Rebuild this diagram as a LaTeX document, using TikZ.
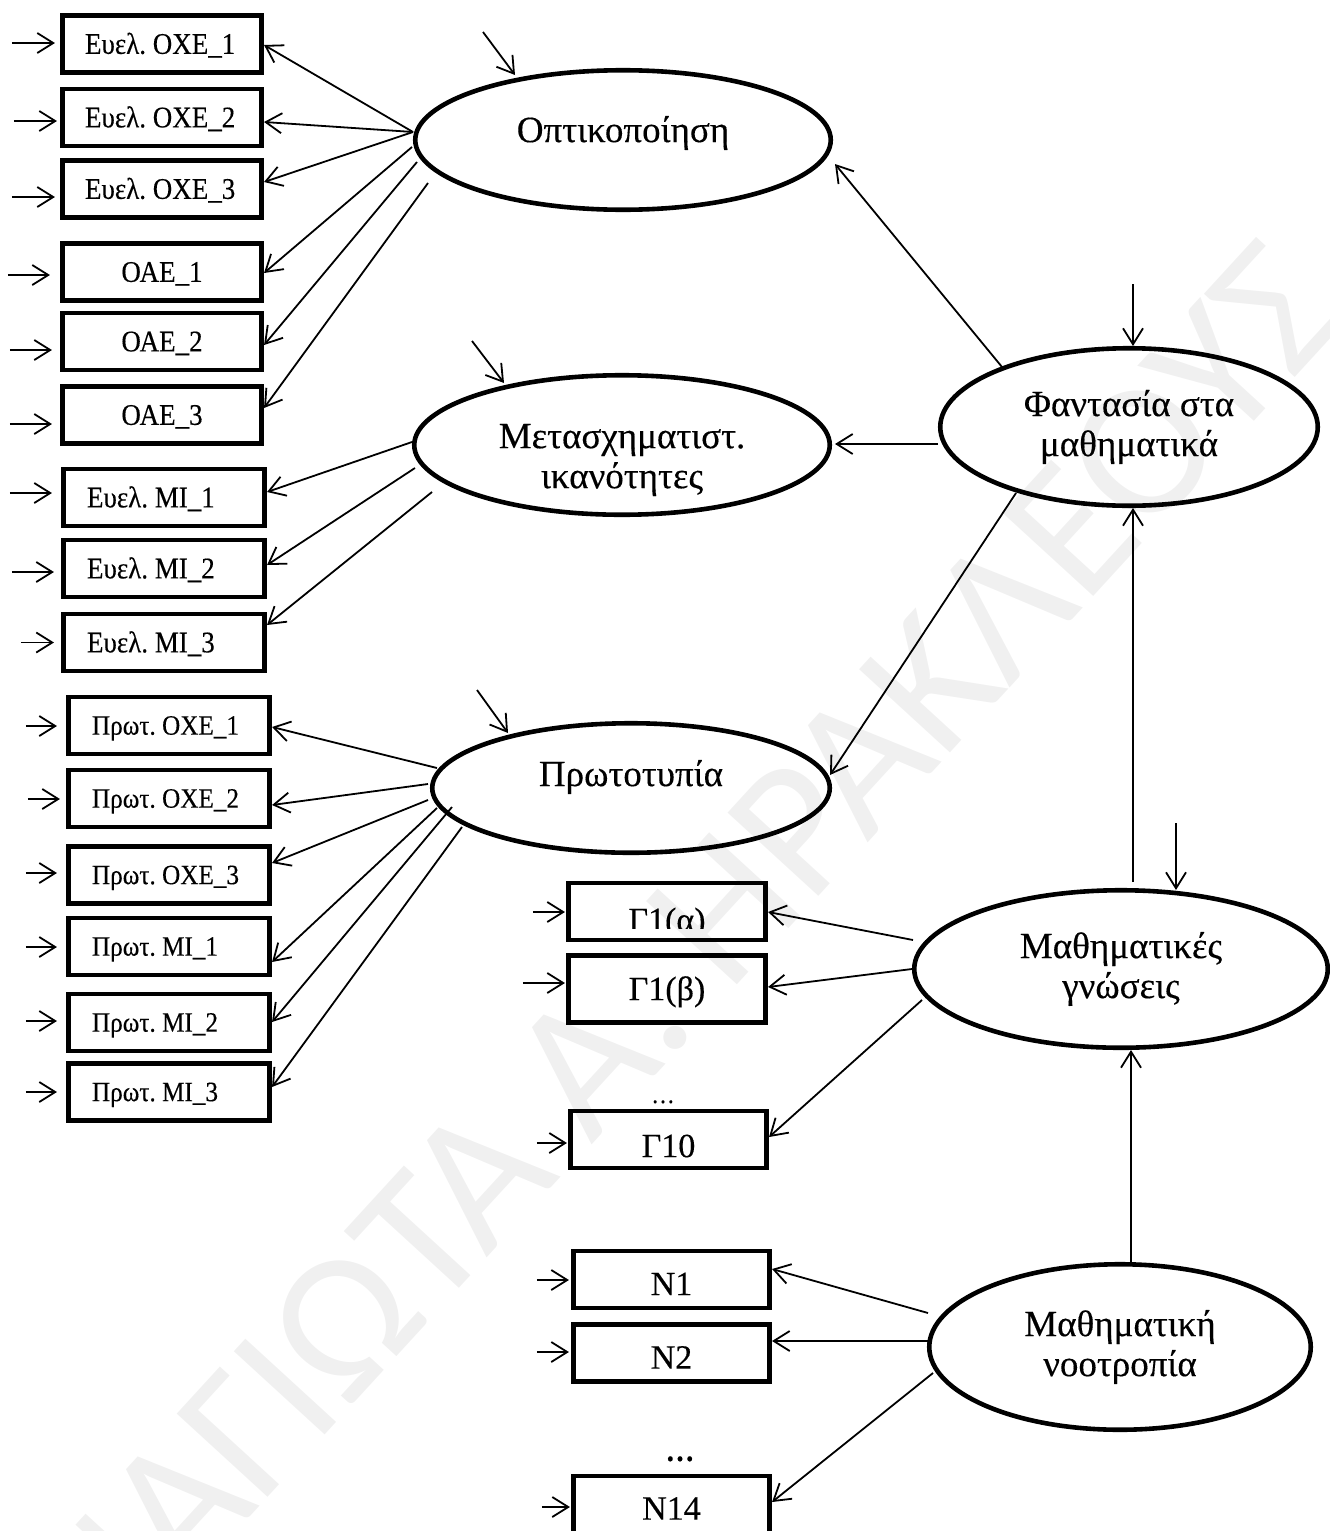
\documentclass[tikz,border=0pt]{standalone}
\usepackage{fontspec}
\setmainfont{Liberation Serif}[FakeStretch=0.9, FakeBold=0.3]
\newfontfamily\ellfont{Liberation Serif}[FakeBold=0.3]
\newfontfamily\wmfont{Carlito}
\usetikzlibrary{arrows.meta,calc,shapes.geometric}
\definecolor{wmgray}{RGB}{240,240,240}
\frenchspacing
\newcommand\lbox[1]{\makebox[154pt][l]{#1}}

\begin{document}
\begin{tikzpicture}[x=1pt,y=-1pt,
  obs/.style={draw, rectangle, line width=4.6pt, inner sep=0pt,
    minimum width=200pt, minimum height=57pt, text depth=0pt},
  fA/.style={font=\fontsize{30}{34}\selectfont, text height=19.7pt},
  fC/.style={font=\fontsize{28}{30}\selectfont, text height=18.3pt},
  fG/.style={font=\ellfont\fontsize{34}{38}\selectfont, text height=22.3pt},
  ltext/.style={inner sep=0pt, align=center, font=\ellfont\fontsize{37}{40}\selectfont},
  latent/.style={draw, ellipse, line width=4.6pt, inner sep=0pt, ltext},
  conn/.style={line width=1.8pt, -{Straight Barb[length=16pt,width=20pt]}},
]
\useasboundingbox (0,0) rectangle (1330,1531);

% background watermark
\node[rotate=47.5, anchor=base west, text=wmgray, inner sep=0pt,
  font=\wmfont\fontsize{192}{192}\selectfont] (wmark) at (-54,1849)
  {ΠΑΝΑΓΙΩΤΑ Α. ΗΡΑΚΛΕΟΥΣ};

% ---------- latent variables ----------
\node[latent, minimum width=415.5pt, minimum height=139.5pt,
  text height=24.2pt, text depth=20pt] (opt) at (623,140) {Οπτικοποίηση};
\node[latent, minimum width=415.5pt, minimum height=139.5pt] (met) at (622,445) {};
\node[ltext] (mett) at ($(met.center)+(0,15)$) {Μετασχηματιστ.\\ικανότητες};
\node[latent, minimum width=397.5pt, minimum height=129.5pt,
  text height=24.2pt, text depth=28pt] (prot) at (631,788) {Πρωτοτυπία};
\node[latent, minimum width=377.5pt, minimum height=157.5pt] (phant) at (1129,427)
  {Φαντασία στα\\μαθηματικά};
\node[latent, minimum width=413.5pt, minimum height=157.5pt] (know) at (1121,969)
  {Μαθηματικές\\γνώσεις};
\node[latent, minimum width=381.5pt, minimum height=165.5pt] (mind) at (1120,1347)
  {Μαθηματική\\νοοτροπία};

% ---------- indicators ----------
\node[obs, fA, minimum width=199.5pt] (a1) at (162,44)    {\lbox{Ευελ. ΟΧΕ\_1}};
\node[obs, fA, minimum width=199.5pt] (a2) at (162,117.5) {\lbox{Ευελ. ΟΧΕ\_2}};
\node[obs, fA, minimum width=199.5pt] (a3) at (162,189)   {\lbox{Ευελ. ΟΧΕ\_3}};
\node[obs, fA, minimum width=199.5pt] (a4) at (162,272)   {ΟΑΕ\_1};
\node[obs, fA, minimum width=199.5pt] (a5) at (162,341.5) {ΟΑΕ\_2};
\node[obs, fA, minimum width=199.5pt] (a6) at (162,415)   {ΟΑΕ\_3};

\node[obs, fA, minimum width=201.5pt] (b1) at (164,497.5) {\lbox{Ευελ. ΜΙ\_1}};
\node[obs, fA, minimum width=201.5pt] (b2) at (164,568.5) {\lbox{Ευελ. ΜΙ\_2}};
\node[obs, fA, minimum width=201.5pt] (b3) at (164,642.5) {\lbox{Ευελ. ΜΙ\_3}};

\node[obs, fC, minimum width=201.5pt] (c1) at (169,725.5)  {\lbox{Πρωτ. ΟΧΕ\_1}};
\node[obs, fC, minimum width=201.5pt] (c2) at (169,798.5)  {\lbox{Πρωτ. ΟΧΕ\_2}};
\node[obs, fC, minimum width=201.5pt] (c3) at (169,875)    {\lbox{Πρωτ. ΟΧΕ\_3}};
\node[obs, fC, minimum width=201.5pt] (c4) at (169,946.5)  {\lbox{Πρωτ. ΜΙ\_1}};
\node[obs, fC, minimum width=201.5pt] (c5) at (169,1022.5) {\lbox{Πρωτ. ΜΙ\_2}};
\node[obs, fC, minimum width=201.5pt] (c6) at (169,1092)   {\lbox{Πρωτ. ΜΙ\_3}};

\node[obs, minimum width=197.5pt] (g1) at (667,911.5) {};
\begin{scope}
  \clip (g1.north west) rectangle ($(g1.south east)+(0,-14)$);
  \node[fG, inner sep=0pt, text height=39.3pt, text depth=0pt] (g1t) at (g1.center) {Γ1(α)};
\end{scope}
\node[obs, fG, minimum width=197.5pt, minimum height=67.5pt] (g2) at (667,989) {Γ1(β)};
\node[font=\fontsize{26}{26}\selectfont, inner sep=0pt, anchor=base] (gdots) at (663,1103) {…};
\node[obs, fG, minimum width=196.5pt, text height=35.3pt] (g3) at (668.5,1139.5) {Γ10};

\node[obs, fG, minimum width=196.5pt, text height=31.3pt] (n1) at (671.5,1279.5) {Ν1};
\node[obs, fG, minimum width=196.5pt, text height=31.3pt] (n2) at (671.5,1353)   {Ν2};
\node[font=\bfseries\fontsize{32}{32}\selectfont, inner sep=0pt, anchor=base] (ndots) at (680,1461) {…};
\node[obs, fG, minimum width=196.5pt, text height=30.3pt] (n3) at (671.5,1504.5) {Ν14};

% ---------- disturbance arrows into indicators ----------
\foreach \n/\dy/\s/\e in {a1/-1/-48/-5, a2/3.5/-46/-3, a3/8/-48/-5, a4/3/-52/-10,
    a5/8.5/-50/-8, a6/9/-50/-8, b1/-4.5/-51/-9, b2/3.5/-49/-7, b3/0/-40/-7,
    c1/0.5/-40/-9, c2/0.5/-38/-6, c3/-2/-40/-9, c4/0.5/-40/-9, c5/-1.5/-40/-9,
    c6/0/-40/-9, g1/0.5/-33/-1, g2/-6/-43/-1, g3/3.5/-31/-1,
    n1/0.5/-34/-2, n2/-1/-34/-2, n3/2.5/-29/-1}
  \draw[conn] ($(\n.west)+(\s,\dy)$) -- ($(\n.west)+(\e,\dy)$);

% ---------- loadings ----------
\draw[conn] ($(opt.center)+(-210,-8)$) -- ($(a1.east)+(0,1)$);
\draw[conn] ($(opt.center)+(-210,-8)$) -- ($(a2.east)+(0,4.5)$);
\draw[conn] ($(opt.center)+(-210,-8)$) -- ($(a3.east)+(0,-7)$);
\draw[conn] ($(opt.center)+(-211,7)$)  -- ($(a4.east)+(0,1)$);
\draw[conn] ($(opt.center)+(-206,22)$) -- ($(a5.east)+(0,3.5)$);
\draw[conn] ($(opt.center)+(-195,43)$) -- ($(a6.east)+(0,-7)$);

\draw[conn] ($(met.center)+(-210,-3)$) -- ($(b1.east)+(0,-5.5)$);
\draw[conn] ($(met.center)+(-207,23)$) -- ($(b2.east)+(0,-3.5)$);
\draw[conn] ($(met.center)+(-190,47)$) -- ($(b3.east)+(0,-17.5)$);

\draw[conn] ($(prot.center)+(-194,-20)$) -- ($(c1.east)+(0,1.5)$);
\draw[conn] ($(prot.center)+(-203,-4)$)  -- ($(c2.east)+(0,6.5)$);
\draw[conn] ($(prot.center)+(-203,12)$)  -- ($(c3.east)+(0,-12)$);
\draw[conn] ($(prot.center)+(-194,20)$)  -- ($(c4.east)+(0,15.5)$);
\draw[conn] ($(prot.center)+(-179,19)$)  -- ($(c5.east)+(0,-0.5)$);
\draw[conn] ($(prot.center)+(-169,39)$)  -- ($(c6.east)+(0,-5)$);

\draw[conn] ($(know.center)+(-208,-29)$) -- ($(g1.east)+(0,0.5)$);
\draw[conn] ($(know.center)+(-209,0)$)   -- ($(g2.east)+(0,-2)$);
\draw[conn] ($(know.center)+(-199,31)$)  -- ($(g3.east)+(0,-2.5)$);

\draw[conn] ($(mind.center)+(-192,-34)$) -- ($(n1.east)+(0,-10.5)$);
\draw[conn] ($(mind.center)+(-192,-6)$)  -- ($(n2.east)+(0,-12)$);
\draw[conn] ($(mind.center)+(-187,26)$)  -- ($(n3.east)+(0,-2.5)$);

% ---------- structural paths ----------
\draw[conn] ($(phant.center)+(-127,-60)$) -- ($(opt.center)+(212,24)$);
\draw[conn] ($(phant.center)+(-191,17)$)  -- ($(met.center)+(213,-1)$);
\draw[conn] ($(phant.center)+(-113,66)$)  -- ($(prot.center)+(199,-13)$);
\draw[conn] ($(know.center)+(12,-87)$)    -- ($(phant.center)+(4,81)$);
\draw[conn] ($(mind.center)+(11,-85)$)    -- ($(know.center)+(10,81)$);

% ---------- disturbances of latent variables ----------
\draw[conn] ($(opt.center)+(-140,-108)$)  -- ($(opt.center)+(-108,-65)$);
\draw[conn] ($(met.center)+(-150,-104)$)  -- ($(met.center)+(-118,-62)$);
\draw[conn] ($(prot.center)+(-154,-98)$)  -- ($(prot.center)+(-123,-55)$);
\draw[conn] ($(phant.center)+(4,-143)$)   -- ($(phant.center)+(4,-81)$);
\draw[conn] ($(know.center)+(55,-146)$)   -- ($(know.center)+(55,-79)$);
\end{tikzpicture}
\end{document}
